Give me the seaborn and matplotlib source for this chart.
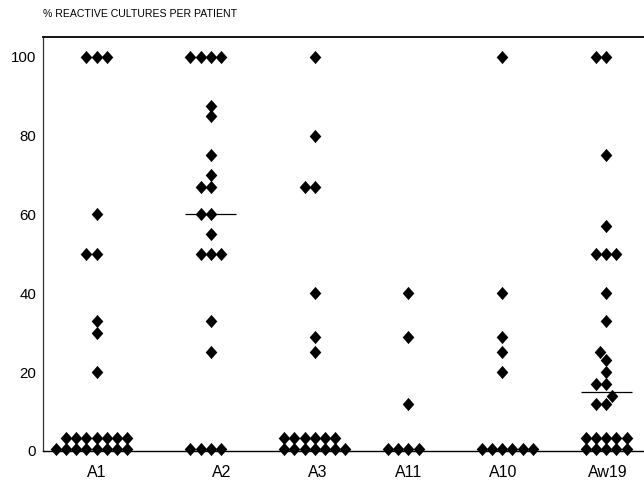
import numpy as np
import matplotlib
matplotlib.use("Agg")
import matplotlib.pyplot as plt
from matplotlib.markers import MarkerStyle
from matplotlib.path import Path
from matplotlib.transforms import Affine2D
import seaborn as sns

# Antigen groups along the x axis
antigens = ["A1", "A2", "A3", "A11", "A10", "Aw19"]

# Percentage of reactive cultures per patient, one list per antigen group
pct_A1 = [100, 100, 100, 60, 50, 50, 33, 30, 20,
          3.2, 3.2, 3.2, 3.2, 3.2, 3.2, 3.2,
          0.6, 0.6, 0.6, 0.6, 0.6, 0.6, 0.6, 0.6]
pct_A2 = [100, 100, 100, 100, 87.5, 85, 75, 70, 67, 67, 60, 60, 55,
          50, 50, 50, 33, 25,
          0.6, 0.6, 0.6, 0.6]
pct_A3 = [100, 80, 67, 67, 40, 29, 25,
          3.2, 3.2, 3.2, 3.2, 3.2, 3.2,
          0.6, 0.6, 0.6, 0.6, 0.6, 0.6, 0.6]
pct_A11 = [40, 29, 12,
           0.6, 0.6, 0.6, 0.6]
pct_A10 = [100, 40, 29, 25, 20,
           0.6, 0.6, 0.6, 0.6, 0.6, 0.6]
pct_Aw19 = [100, 100, 75, 57, 50, 50, 50, 40, 33, 25, 23, 20, 17, 17, 14, 12, 12,
            3.2, 3.2, 3.2, 3.2, 3.2,
            0.6, 0.6, 0.6, 0.6, 0.6]

# Group medians marked with a short horizontal bar
median_groups = ["A2", "Aw19"]
median_values = [60, 15]

y_ticks = [0, 20, 40, 60, 80, 100]

cultures = dict(zip(antigens, [pct_A1, pct_A2, pct_A3, pct_A11, pct_A10, pct_Aw19]))

# Layout: column centres and label positions on the x axis
column_pos = [0.0, 1.12, 2.14, 3.06, 3.98, 5.0]
label_pos = [0.0, 1.23, 2.17, 3.06, 3.99, 5.01]

sns.set_theme(style="white")
plt.rcParams["font.family"] = ["Liberation Sans", "DejaVu Sans"]

fig = plt.figure(figsize=(6.44, 4.83), dpi=100)
ax = fig.add_axes([43 / 644, 32 / 483, 601 / 644, 414 / 483])

# Tall diamond marker
diamond = MarkerStyle(
    Path([(0, 1), (1, 0), (0, -1), (-1, 0), (0, 1)], closed=True),
    transform=Affine2D().scale(1.2, 1.36),
)

for name, pos in zip(antigens, column_pos):
    vals = np.asarray(cultures[name], dtype=float)
    sns.swarmplot(
        x=np.full(len(vals), pos), y=vals,
        native_scale=True, orient="x",
        color="black", size=6.98, linewidth=0,
        marker=diamond, clip_on=False, ax=ax,
    )

pos_of = dict(zip(antigens, column_pos))
for name, med in zip(median_groups, median_values):
    c = pos_of[name]
    ax.hlines(med, c - 0.25, c + 0.25, color="black", linewidth=0.9, zorder=3)

ax.set_xlim(-0.525, 5.37)
ax.set_ylim(0, 105)
ax.set_yticks(y_ticks)
ax.set_yticklabels([str(t) for t in y_ticks])
ax.set_xticks(label_pos)
ax.set_xticklabels(antigens)
ax.set_xlabel("")
ax.set_ylabel("")
ax.tick_params(axis="y", length=0, pad=5, labelsize=10.8, labelcolor="black")
ax.tick_params(axis="x", length=0, pad=10, labelsize=11.5, labelcolor="black")

ax.spines["right"].set_visible(False)
for side, lw in (("top", 1.3), ("left", 0.9), ("bottom", 1.0)):
    ax.spines[side].set_color("black")
    ax.spines[side].set_linewidth(lw)
ax.spines["left"].set_color("#333333")

fig.text(43 / 644, 1 - 14 / 483, "% REACTIVE CULTURES PER PATIENT",
         fontsize=7.6, ha="left", va="center", color="black")

fig.savefig("out.png", dpi=100)
